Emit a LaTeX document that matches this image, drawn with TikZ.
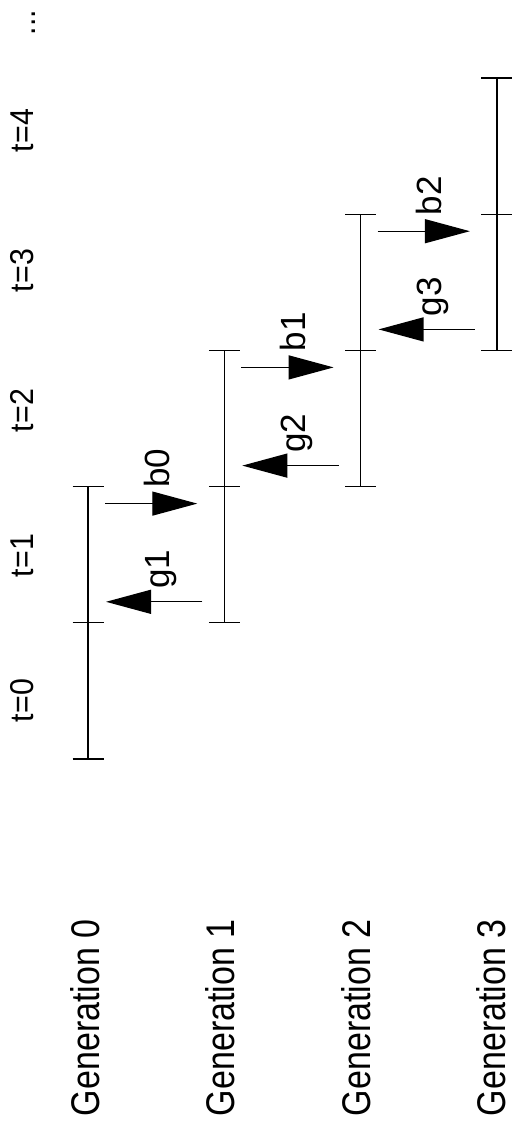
\documentclass[tikz,border=0pt]{standalone}
\usepackage{fontspec}
\setmainfont{Liberation Sans}
\usepackage{graphicx}
\usetikzlibrary{arrows.meta}
\begin{document}
\begin{tikzpicture}[x=1pt,y=-1pt,
  genline/.style={line width=1.2pt},
  bar/.style={line width=1.2pt},
  flow/.style={line width=1.3pt,-{Triangle[length=45pt,width=24pt]}},
  rotlabel/.style={rotate=90,anchor=base west,inner sep=0pt,outer sep=0pt},
  genfont/.style={font=\fontsize{40}{42}\selectfont},
  tfont/.style={font=\fontsize{33}{36}\selectfont},
  afont/.style={font=\fontsize{35}{38}\selectfont}]
\useasboundingbox (0,0) rectangle (513,1125);
% time labels
\foreach \t/\yy in {0/722,1/577,2/432,3/292,4/152}{
  \node[rotlabel,tfont] (tl\t) at (33,\yy) {\scalebox{0.92}[1]{t=\t}};
}
\node[rotlabel,tfont] (dots) at (35,35) {\scalebox{0.92}[1]{...}};
% generation labels
\foreach \g/\xx in {0/99,1/234,2/370,3/505}{
  \node[rotlabel,genfont] (gl\g) at (\xx,1116) {\scalebox{0.85}[1]{Generation \g}};
}
% generation lines
\foreach \g in {0,1,2,3}{
  \pgfmathsetmacro{\X}{88+136.3*\g}
  \pgfmathsetmacro{\Ya}{759-136.2*\g}
  \pgfmathsetmacro{\Yb}{759-136.2*(\g+1)}
  \pgfmathsetmacro{\Yc}{759-136.2*(\g+2)}
  \coordinate (s\g) at (\X,\Ya);
  \coordinate (m\g) at (\X,\Yb);
  \coordinate (e\g) at (\X,\Yc);
  \draw[genline] (s\g) -- (e\g);
  \draw[bar] ([xshift=-15.5pt]s\g) -- ([xshift=15.5pt]s\g);
  \draw[bar] ([xshift=-15.5pt]m\g) -- ([xshift=15.5pt]m\g);
  \draw[bar] ([xshift=-15.5pt]e\g) -- ([xshift=15.5pt]e\g);
}
% arrows g_k (leftwards) and b_{k-1} (rightwards)
\foreach \k in {1,2,3}{
  \pgfmathsetmacro{\XL}{88+136.3*(\k-1)}
  \pgfmathsetmacro{\XR}{88+136.3*\k}
  \pgfmathsetmacro{\Yg}{759-136.2*\k-21}
  \pgfmathsetmacro{\Yb}{759-136.2*(\k+1)+17}
  \pgfmathsetmacro{\Ygl}{759-136.2*\k-34}
  \pgfmathsetmacro{\Ybl}{759-136.2*(\k+1)+1}
  \pgfmathtruncatemacro{\km}{\k-1}
  \coordinate (gt\k) at (\XR-22,\Yg);
  \coordinate (gh\k) at (\XL+18,\Yg);
  \coordinate (bt\km) at (\XL+17,\Yb);
  \coordinate (bh\km) at (\XR-27,\Yb);
  \draw[flow] (gt\k) -- (gh\k);
  \draw[flow] (bt\km) -- (bh\km);
  \node[rotlabel,afont] (lg\k) at (\XL+81,\Ygl) {g\k};
  \node[rotlabel,afont] (lb\km) at (\XL+81,\Ybl) {b\km};
}
\end{tikzpicture}
\end{document}
